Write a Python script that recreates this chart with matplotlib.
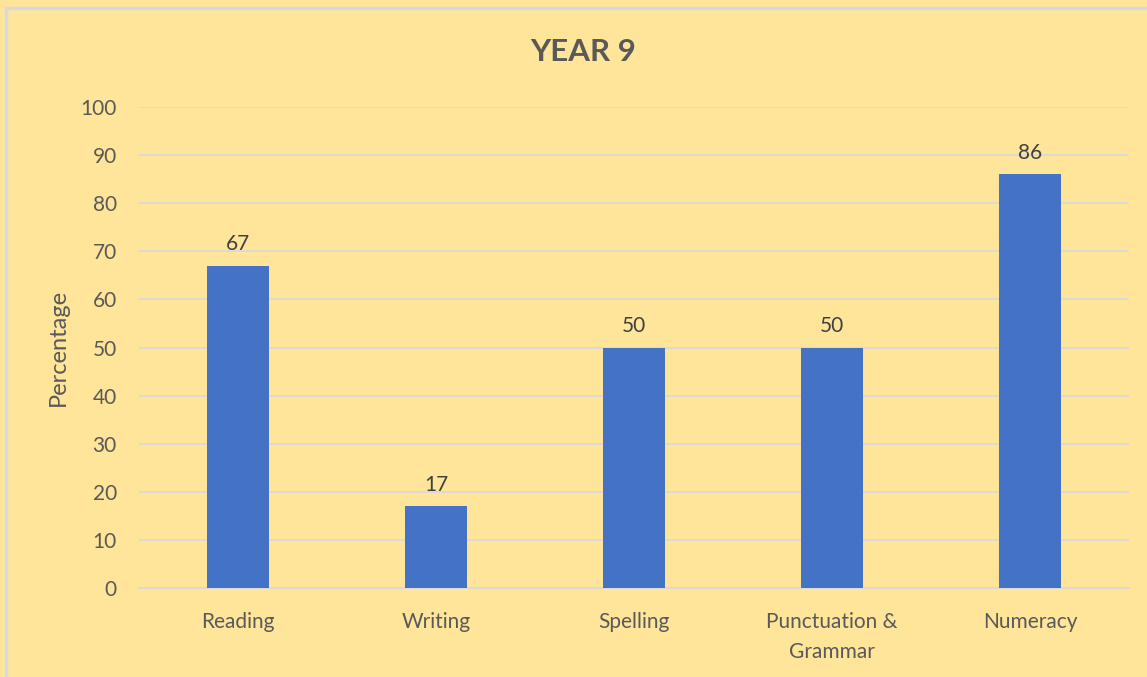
import matplotlib
matplotlib.use("Agg")
import matplotlib.pyplot as plt
from matplotlib.patches import Rectangle

categories = ["Reading", "Writing", "Spelling", "Punctuation &\nGrammar", "Numeracy"]
values = [67, 17, 50, 50, 86]
yticks = [0, 10, 20, 30, 40, 50, 60, 70, 80, 90, 100]

plt.rcParams['font.family'] = ['Lato', 'DejaVu Sans']
txt = '#595959'
bg = '#FFE599'

fig = plt.figure(figsize=(11.47, 6.77), dpi=100)
fig.patch.set_facecolor(bg)
fig.patches.append(Rectangle((6/1147, -0.01), 1.02, 1 - 8/677 + 0.01, transform=fig.transFigure,
                             fill=False, edgecolor='#D9D9D9', linewidth=2.5))
ax = fig.add_axes([139/1147, 1 - 588/677, (1129 - 139)/1147, (588 - 107)/677])
ax.set_facecolor(bg)

x = list(range(len(categories)))
bars = ax.bar(x, values, width=0.313, color='#4472C4', zorder=3)
for xi, v in zip(x, values):
    ax.text(xi, v + 2.4, str(v), ha='center', va='bottom', fontsize=15, color='#404040')

ax.set_xlim(-0.5, len(categories) - 0.5)
ax.set_ylim(0, 100)
ax.set_yticks(yticks)
ax.yaxis.grid(True, color='#D9D9D9', linewidth=1.3, zorder=0)
ax.set_axisbelow(True)
for s in ['left', 'right', 'top']:
    ax.spines[s].set_visible(False)
ax.spines['bottom'].set_color('#D9D9D9')
ax.spines['bottom'].set_linewidth(1.3)
ax.tick_params(axis='both', length=0, labelsize=15, labelcolor=txt)
ax.tick_params(axis='y', pad=16)
ax.tick_params(axis='x', pad=17)
ax.set_xticks(x)
ax.set_xticklabels(categories, linespacing=1.65)
ax.set_ylabel('Percentage', fontsize=17, color=txt, labelpad=8)

fig.text(583/1147, 1 - 52/677, 'YEAR 9', ha='center', va='center', fontsize=22.5,
         fontweight='bold', color=txt)

fig.savefig('out.png', dpi=100, facecolor=bg)
